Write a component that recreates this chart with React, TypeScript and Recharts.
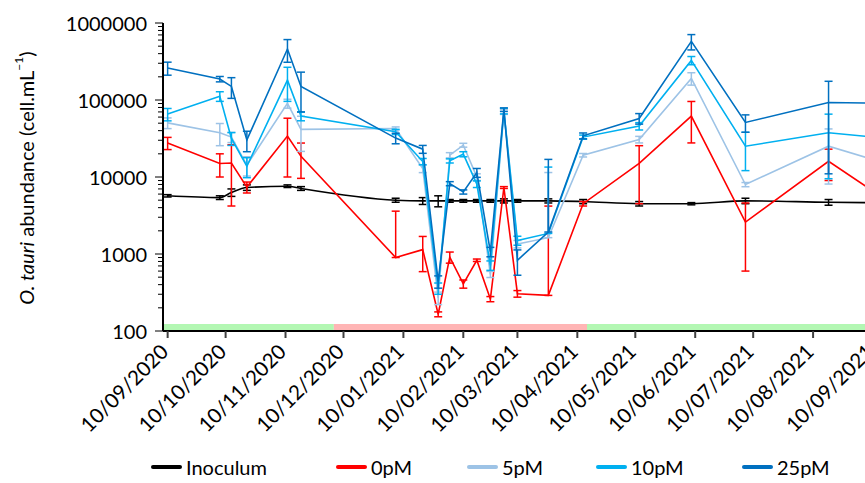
import { LineChart, Line, XAxis, YAxis, ErrorBar, ReferenceArea } from 'recharts';

// sampling dates (ISO)
const sampleDates = [
  '2020-09-10', '2020-10-07', '2020-10-13', '2020-10-21', '2020-11-11', '2020-11-18',
  '2021-01-06', '2021-01-20', '2021-01-28', '2021-02-03', '2021-02-10', '2021-02-17',
  '2021-02-24', '2021-03-03', '2021-03-10', '2021-03-26', '2021-04-13', '2021-05-12',
  '2021-06-08', '2021-07-06', '2021-08-18', '2021-09-22',
];

// cell.mL-1 and error (+/-)
const inoculum = [5700, 5400, 6300, 7300, 7600, 7100, 5000, 4900, 4900, 4900, 4900, 4900, 4900, 4900, 4900, 4900, 4800, 4500, 4500, 4900, 4700, 4600];
const inoculumErr = [200, 300, 700, 600, 300, 400, 300, 500, 800, 200, 200, 200, 200, 300, 200, 300, 300, 300, 150, 400, 400, 300];

const pm0 = [27700, 15000, 15200, 7400, 34000, 18600, 900, 1140, 165, 910, 410, 830, 260, 7300, 305, 290, 4500, 15000, 61700, 2600, 16000, 4100];
const pm0Err = [5000, 5000, 11000, 1200, 24000, 9000, 2700, 550, 12, 150, 50, 30, 20, 200, 30, 3900, 300, 10500, 34000, 2000, 7000, 2000];

const pm5 = [50500, 37500, 33000, 14300, 90300, 41500, 42700, 12900, 270, 19200, 25900, 10000, 545, 70000, 1350, 1630, 19200, 30700, 191000, 7980, 25100, 13700];
const pm5Err = [8000, 12000, 5000, 4000, 12000, 20000, 2000, 1500, 50, 1500, 1500, 1000, 50, 5000, 150, 9800, 1000, 3000, 35000, 500, 17000, 3000];

const pm10 = [65600, 112000, 31700, 13800, 181000, 61700, 38600, 15900, 360, 16200, 19800, 8100, 713, 72000, 1500, 1850, 33000, 45800, 327000, 25100, 37500, 31000];
const pm10Err = [12000, 16000, 6000, 4000, 85000, 8000, 3000, 1500, 60, 1000, 1500, 800, 100, 6000, 200, 11600, 2000, 5000, 40000, 13000, 28000, 5000];

const pm25 = [260000, 187000, 150000, 30300, 459000, 150000, 32000, 23000, 440, 8200, 6400, 11400, 1070, 75000, 830, 1930, 34300, 57600, 577000, 51100, 93000, 90000];
const pm25Err = [50000, 15000, 45000, 9000, 150000, 80000, 5000, 2700, 80, 500, 400, 1500, 150, 4000, 300, 15000, 3000, 9000, 130000, 13000, 82000, 10000];

const tickLabels = [
  '10/09/2020', '10/10/2020', '10/11/2020', '10/12/2020', '10/01/2021', '10/02/2021', '10/03/2021',
  '10/04/2021', '10/05/2021', '10/06/2021', '10/07/2021', '10/08/2021', '10/09/2021',
];
const yLabels = [100, 1000, 10000, 100000, 1000000];

// coloured strip along the x axis
const bandFrom = ['2020-09-07', '2020-12-05', '2021-04-15'];
const bandTo = ['2020-12-05', '2021-04-15', '2021-10-20'];
const bandKind = ['light', 'dark', 'light'];
const bandTop = 123;

const bandColors: Record<string, string> = { light: '#b3f7b3', dark: '#ffb5b5' };

const series = [
  { key: 'inoculum', name: 'Inoculum', color: '#000000', values: inoculum, err: inoculumErr, smooth: true },
  { key: 'pm0', name: '0pM', color: '#ff0000', values: pm0, err: pm0Err, smooth: false },
  { key: 'pm5', name: '5pM', color: '#9dc3e6', values: pm5, err: pm5Err, smooth: false },
  { key: 'pm10', name: '10pM', color: '#00b0f0', values: pm10, err: pm10Err, smooth: false },
  { key: 'pm25', name: '25pM', color: '#0070c0', values: pm25, err: pm25Err, smooth: false },
];

const legendLeft = [151, 336, 467, 596, 742];

const DAY0 = Date.parse('2020-09-10');
const toDay = (iso: string) => Math.round((Date.parse(iso) - DAY0) / 86400000);
const labelToIso = (s: string) => {
  const [d, m, y] = s.split('/');
  return `${y}-${m}-${d}`;
};

const tickDays = tickLabels.map((l) => toDay(labelToIso(l)));
const X_DOMAIN: [number, number] = [-2.4, 397.6];

// minor ticks 2..9 in every decade
const yTicks: number[] = [];
yLabels.forEach((v, i) => {
  yTicks.push(v);
  if (i < yLabels.length - 1) for (let k = 2; k < 10; k++) yTicks.push(v * k);
});

const data = sampleDates.map((d, i) => {
  const row: Record<string, any> = { day: toDay(d) };
  series.forEach((s) => {
    const v = s.values[i];
    const e = s.err[i];
    row[s.key] = v;
    row[s.key + 'Err'] = [e < v ? e : 0, e];
  });
  return row;
});

const FONT = 'Lato, "Open Sans", sans-serif';

function YTick(props: any) {
  const { x, y, payload } = props;
  const major = yLabels.includes(payload.value);
  return (
    <g>
      <line x1={x - (major ? 8 : 5)} x2={x} y1={y} y2={y} stroke="#000" strokeWidth={1} />
      {major && (
        <text x={x - 16} y={y} textAnchor="end" dominantBaseline="central" fontSize={20} fontFamily={FONT} fill="#000">
          {payload.value}
        </text>
      )}
    </g>
  );
}

function XTick(props: any) {
  const { x, y, payload } = props;
  const label = tickLabels[tickDays.indexOf(payload.value)];
  const tx = x + 2;
  const ty = y + 22;
  return (
    <g>
      <line x1={x} x2={x} y1={y} y2={y + 7} stroke="#404040" strokeWidth={2} />
      <text
        x={tx}
        y={ty}
        transform={`rotate(-45, ${tx}, ${ty})`}
        textAnchor="end"
        fontSize={20.5}
        fontFamily={FONT}
        fill="#000"
      >
        {label}
      </text>
    </g>
  );
}

function YTitle() {
  return (
    <text
      x={0}
      y={0}
      transform="translate(26, 178) rotate(-90)"
      textAnchor="middle"
      dominantBaseline="central"
      fontSize={20}
      fontFamily={FONT}
      fill="#000"
    >
      <tspan fontStyle="italic">O. tauri</tspan>
      <tspan> abundance (cell.mL</tspan>
      <tspan dy={-8} fontSize={12}>−1</tspan>
      <tspan dy={8}>)</tspan>
    </text>
  );
}

export default function App() {
  return (
    <div style={{ position: 'fixed', left: 0, top: 0, width: 865, height: 483, overflow: 'hidden', background: '#fff' }}>
      <LineChart width={936} height={483} data={data} margin={{ top: 23, right: 0, bottom: 0, left: 0 }}>
        {bandFrom.map((from, i) => (
          <ReferenceArea
            key={from}
            x1={toDay(from)}
            x2={toDay(bandTo[i])}
            y1={100}
            y2={bandTop}
            fill={bandColors[bandKind[i]]}
            fillOpacity={1}
            stroke="none"
            ifOverflow="hidden"
          />
        ))}
        <XAxis
          dataKey="day"
          type="number"
          domain={X_DOMAIN}
          ticks={tickDays}
          interval={0}
          height={152}
          tickSize={0}
          tickMargin={0}
          tickLine={false}
          tick={<XTick />}
          axisLine={{ stroke: '#000', strokeWidth: 2 }}
          allowDataOverflow
        />
        <YAxis
          type="number"
          scale="log"
          domain={[100, 1000000]}
          ticks={yTicks}
          interval={0}
          width={163}
          tickSize={0}
          tickMargin={0}
          tickLine={false}
          tick={<YTick />}
          axisLine={{ stroke: '#000', strokeWidth: 2 }}
          allowDataOverflow
          label={<YTitle />}
        />
        {series.map((s) => (
          <Line
            key={s.key}
            dataKey={s.key}
            name={s.name}
            type={s.smooth ? 'monotone' : 'linear'}
            stroke={s.color}
            strokeWidth={1.6}
            dot={false}
            activeDot={false}
            isAnimationActive={false}
          >
            <ErrorBar dataKey={s.key + 'Err'} width={4} stroke={s.color} strokeWidth={1.5} direction="y" />
          </Line>
        ))}
      </LineChart>
      {series.map((s, i) => (
        <div
          key={s.key}
          style={{
            position: 'absolute',
            left: legendLeft[i],
            top: 455,
            height: 24,
            display: 'flex',
            alignItems: 'center',
            fontFamily: FONT,
            fontSize: 20,
            color: '#000',
          }}
        >
          <span style={{ display: 'inline-block', width: 31, height: 4, borderRadius: 2, background: s.color, marginRight: 4 }} />
          <span>{s.name}</span>
        </div>
      ))}
    </div>
  );
}
